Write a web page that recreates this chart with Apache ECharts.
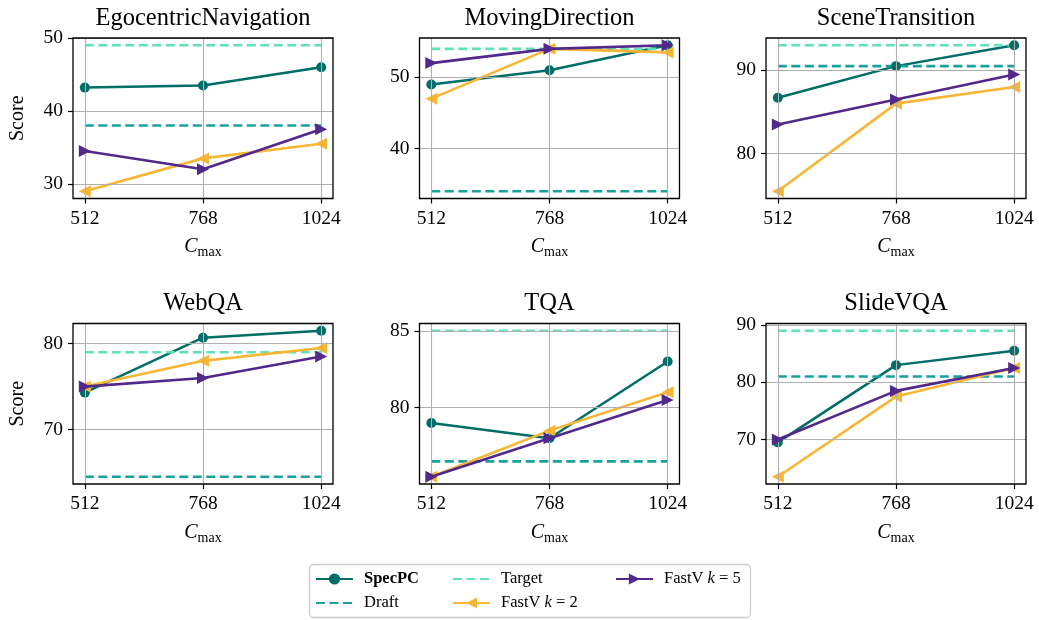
<!DOCTYPE html>
<html>
<head>
<meta charset="utf-8">
<script src="https://cdn.jsdelivr.net/npm/echarts@6/dist/echarts.min.js"></script>
<style>
  html, body { margin: 0; padding: 0; background: #fff; }
  #chart { width: 1039px; height: 620px; }
</style>
</head>
<body>
<div id="chart"></div>
<script>
// Benchmarks, one panel each (row-major)
const titles = ['EgocentricNavigation', 'MovingDirection', 'SceneTransition', 'WebQA', 'TQA', 'SlideVQA'];
// Context budget values on the x axis
const cmax = [512, 768, 1024];
// Scores per panel, one value per C_max
const specPC = [[43.2, 43.5, 46.0], [49.0, 51.0, 54.5], [86.7, 90.5, 93.0], [74.3, 80.7, 81.5], [79.0, 78.0, 83.0], [69.5, 83.0, 85.5]];
const fastVk2 = [[29.0, 33.5, 35.5], [47.0, 54.0, 53.5], [75.5, 86.0, 88.0], [75.0, 78.0, 79.5], [75.5, 78.5, 81.0], [63.5, 77.5, 82.5]];
const fastVk5 = [[34.5, 32.0, 37.5], [52.0, 54.0, 54.5], [83.5, 86.5, 89.5], [75.0, 76.0, 78.5], [75.5, 78.0, 80.5], [70.0, 78.5, 82.5]];
// Reference levels (constant over C_max)
const target = [49.0, 54.0, 93.0, 79.0, 85.0, 89.0];
const draft = [38.0, 34.0, 90.5, 64.5, 76.5, 81.0];
// Y tick labels per panel
const yTicks = [[30, 40, 50], [40, 50], [80, 90], [70, 80], [80, 85], [70, 80, 90]];

const COLORS = {
  spec: '#006d67',
  target: '#5fe1b9',
  draft: '#17a29c',
  k2: '#f8b635',
  k5: '#52298a'
};
const SERIF = '"Liberation Serif", "DejaVu Serif", serif';
const GRID_LEFT = [73, 419.5, 766];
const GRID_TOP = [38, 323.5];
const GRID_W = 260, GRID_H = 160.5;

// matplotlib-style 5% auto margins
function padded(vals) {
  const lo = Math.min(...vals), hi = Math.max(...vals);
  const m = (hi - lo) * 0.05;
  return [lo - m, hi + m];
}
const xRange = padded(cmax);
const plainNumber = v => String(v);

const grids = [], xAxes = [], yAxes = [], series = [], graphics = [];

titles.forEach((title, i) => {
  const col = i % 3, row = Math.floor(i / 3);
  const left = GRID_LEFT[col], top = GRID_TOP[row];
  grids.push({ left: left, top: top, width: GRID_W, height: GRID_H });

  const yr = padded([].concat(specPC[i], fastVk2[i], fastVk5[i], [target[i], draft[i]]));

  xAxes.push({
    gridIndex: i, type: 'value', min: xRange[0], max: xRange[1],
    axisLine: { show: false },
    axisTick: { show: true, customValues: cmax, length: 5, lineStyle: { color: '#000', width: 1.2 } },
    axisLabel: { customValues: cmax, formatter: plainNumber, color: '#000', fontFamily: SERIF, fontSize: 19.5, margin: 10 },
    splitLine: { show: false },
    name: '{c|C}{s|max}', nameLocation: 'middle', nameGap: 36,
    nameTextStyle: {
      rich: {
        c: { fontFamily: SERIF, fontSize: 20, fontStyle: 'italic', color: '#000' },
        s: { fontFamily: SERIF, fontSize: 14, color: '#000', padding: [11, 0, 0, 0] }
      }
    }
  });

  yAxes.push({
    gridIndex: i, type: 'value', min: yr[0], max: yr[1],
    axisLine: { show: false },
    axisTick: { show: true, customValues: yTicks[i], length: 5, lineStyle: { color: '#000', width: 1.2 } },
    axisLabel: { customValues: yTicks[i], formatter: plainNumber, color: '#000', fontFamily: SERIF, fontSize: 19.5, margin: 10 },
    splitLine: { show: false },
    name: col === 0 ? 'Score' : '', nameLocation: 'middle', nameGap: 45, nameRotate: 90,
    nameTextStyle: { fontFamily: SERIF, fontSize: 20, color: '#000' }
  });

  // light grid lines at the labelled ticks
  series.push({
    name: 'grid' + i, type: 'line', xAxisIndex: i, yAxisIndex: i, z: 1,
    data: cmax.map((x, j) => [x, specPC[i][j]]),
    showSymbol: false, lineStyle: { opacity: 0 }, silent: true, tooltip: { show: false },
    markLine: {
      silent: true, symbol: 'none', label: { show: false }, animation: false,
      lineStyle: { color: '#b0b0b0', width: 1.1, type: 'solid' },
      emphasis: { disabled: true },
      data: cmax.map(x => ({ xAxis: x })).concat(yTicks[i].map(y => ({ yAxis: y })))
    }
  });

  const common = { type: 'line', xAxisIndex: i, yAxisIndex: i, animation: false };
  series.push(Object.assign({}, common, {
    name: 'SpecPC', z: 3,
    data: cmax.map((x, j) => [x, specPC[i][j]]),
    symbol: 'circle', symbolSize: 10,
    itemStyle: { color: COLORS.spec },
    lineStyle: { color: COLORS.spec, width: 2.5 }
  }));
  series.push(Object.assign({}, common, {
    name: 'Draft', z: 3,
    data: [[cmax[0], draft[i]], [cmax[cmax.length - 1], draft[i]]],
    symbol: 'none', itemStyle: { color: COLORS.draft },
    lineStyle: { color: COLORS.draft, width: 2.6, type: [9, 4.5] }
  }));
  series.push(Object.assign({}, common, {
    name: 'Target', z: 3,
    data: [[cmax[0], target[i]], [cmax[cmax.length - 1], target[i]]],
    symbol: 'none', itemStyle: { color: COLORS.target },
    lineStyle: { color: COLORS.target, width: 2.6, type: [9, 4.5] }
  }));
  series.push(Object.assign({}, common, {
    name: 'FastV k=2', z: 4,
    data: cmax.map((x, j) => [x, fastVk2[i][j]]),
    symbol: 'triangle', symbolRotate: 90, symbolSize: 12,
    itemStyle: { color: COLORS.k2 },
    lineStyle: { color: COLORS.k2, width: 2.6 }
  }));
  series.push(Object.assign({}, common, {
    name: 'FastV k=5', z: 5,
    data: cmax.map((x, j) => [x, fastVk5[i][j]]),
    symbol: 'triangle', symbolRotate: -90, symbolSize: 12,
    itemStyle: { color: COLORS.k5 },
    lineStyle: { color: COLORS.k5, width: 2.6 }
  }));

  // axes frame
  graphics.push({
    type: 'rect', z: 20, silent: true,
    shape: { x: left, y: top, width: GRID_W, height: GRID_H },
    style: { fill: null, stroke: '#000', lineWidth: 1.3 }
  });
  graphics.push({
    type: 'text', x: left + GRID_W / 2, y: top - 19.5, silent: true,
    style: { text: title, font: '24.5px ' + SERIF, fill: '#000', align: 'center', verticalAlign: 'middle' }
  });
});

// legend frame
graphics.push({
  type: 'rect', z: -1, silent: true,
  shape: { x: 309.5, y: 564.5, width: 441, height: 53, r: 4 },
  style: { fill: '#fff', stroke: '#cccccc', lineWidth: 1.3 }
});

const legendText = { fontFamily: SERIF, fontSize: 16.5, color: '#000', lineHeight: 18, padding: [0, 0, 0, 6],
  rich: { b: { fontFamily: SERIF, fontSize: 16.5, fontWeight: 'bold', color: '#000' },
          i: { fontFamily: SERIF, fontSize: 16.5, fontStyle: 'italic', color: '#000' } } };
function legendItem(entry, left, top, formatter) {
  return {
    data: [entry], left: left, top: top, padding: 0, itemWidth: 37, itemHeight: 14,
    selectedMode: false, textStyle: legendText, formatter: formatter
  };
}
const legends = [
  legendItem('SpecPC', 315, 570, () => '{b|SpecPC}'),
  legendItem({ name: 'Draft', itemStyle: { opacity: 0 } }, 315, 594, 'Draft'),
  legendItem({ name: 'Target', itemStyle: { opacity: 0 } }, 452, 570, 'Target'),
  legendItem('FastV k=2', 452, 594, () => 'FastV {i|k} = 2'),
  legendItem('FastV k=5', 615, 570, () => 'FastV {i|k} = 5')
];

const chart = echarts.init(document.getElementById('chart'), null, { renderer: 'canvas' });
chart.setOption({
  animation: false,
  backgroundColor: '#fff',
  grid: grids, xAxis: xAxes, yAxis: yAxes, series: series,
  legend: legends, graphic: graphics
});
</script>
</body>
</html>
